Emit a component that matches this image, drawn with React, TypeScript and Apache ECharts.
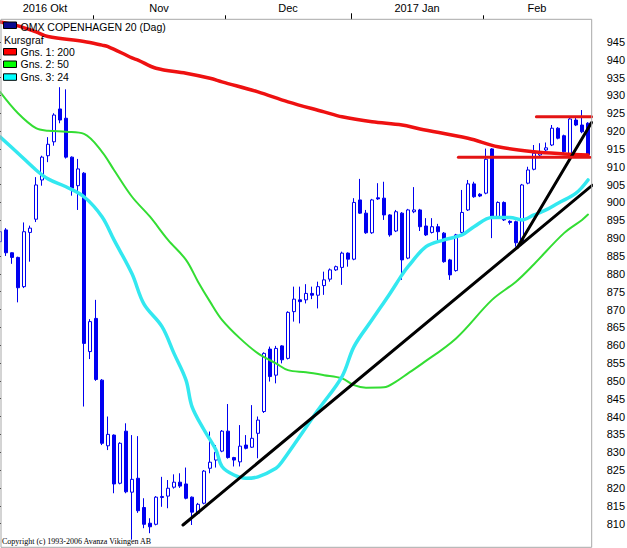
import React, { useEffect, useRef } from "react";
import * as echarts from "echarts";

// ---- calendar (trading days shown) ----
const monthNames = ["2016 Okt", "Nov", "Dec", "2017 Jan", "Feb"];
const monthYears = [2016, 2016, 2016, 2017, 2017];
const monthNums = ["10", "11", "12", "01", "02"];
const oktDays = [10, 11, 12, 13, 14, 17, 18, 19, 20, 21, 24, 25, 26, 27, 28, 31];
const novDays = [1, 2, 3, 4, 7, 8, 9, 10, 11, 14, 15, 16, 17, 18, 21, 22, 23, 24, 25, 28, 29, 30];
const decDays = [1, 2, 5, 6, 7, 8, 9, 12, 13, 14, 15, 16, 19, 20, 21, 22, 23, 27, 28, 29, 30];
const janDays = [2, 3, 4, 5, 6, 9, 10, 11, 12, 13, 16, 17, 18, 19, 20, 23, 24, 25, 26, 27, 30, 31];
const febDays = [1, 2, 3, 6, 7, 8, 9, 10, 13, 14, 15, 16, 17, 20, 21, 22, 23, 24];
const monthDays = [oktDays, novDays, decDays, janDays, febDays];

// ---- OHLC ----
const opens = [
  889.0, 892.3, 885.9, 884.6, 876.4, 891.6, 895.3, 906.3, 913.1, 917.0,
  926.2, 923.6, 912.7, 904.7, 908.2, 858.2, 867.5, 850.2, 831.8, 834.8,
  821.3, 835.9, 818.8, 822.7, 814.5, 810.1, 809.8, 817.3, 817.7, 820.2,
  821.6, 821.1, 817.4, 812.9, 815.7, 825.5, 827.8, 830.3, 835.9, 828.5,
  827.3, 832.0, 831.4, 835.3, 841.4, 858.9, 851.6, 859.8, 856.3, 869.4,
  872.7, 872.7, 874.5, 874.0, 876.7, 878.5, 881.1, 881.8, 885.8, 884.1,
  900.7, 897.0, 891.5, 901.3, 901.2, 896.5, 892.0, 897.0, 884.4, 897.4,
  897.9, 893.4, 891.6, 893.2, 891.4, 883.9, 880.9, 891.6, 897.9, 905.2,
  902.3, 902.6, 915.0, 895.8, 900.0, 894.7, 894.6, 889.0, 905.4, 909.3,
  913.3, 914.7, 916.1, 920.8, 918.7, 913.3, 923.1, 921.7, 922.2,
];
const closes = [
  891.8, 885.9, 884.6, 876.1, 891.8, 892.8, 904.9, 912.7, 916.3, 924.5,
  923.1, 912.7, 904.0, 909.4, 860.5, 866.6, 850.4, 832.5, 835.0, 821.1,
  832.5, 818.9, 822.4, 813.6, 809.8, 809.1, 817.4, 817.6, 819.9, 821.6,
  820.5, 817.1, 813.2, 815.4, 824.7, 827.2, 830.0, 835.9, 828.5, 827.8,
  831.7, 831.1, 833.9, 839.0, 857.7, 851.2, 859.1, 855.9, 869.2, 872.9,
  872.2, 874.5, 874.0, 876.4, 878.3, 881.1, 882.0, 885.8, 884.1, 900.0,
  897.0, 891.5, 900.7, 901.0, 896.5, 890.9, 897.4, 883.9, 897.9, 897.9,
  893.2, 890.9, 893.2, 891.8, 883.4, 879.7, 890.9, 897.2, 905.2, 901.6,
  901.8, 912.1, 895.8, 900.0, 895.1, 894.4, 888.7, 904.9, 909.1, 913.8,
  914.2, 915.3, 920.8, 918.0, 914.2, 923.4, 921.7, 919.8, 913.3,
];
const lows = [
  888.5, 885.0, 882.8, 872.0, 876.0, 883.4, 894.5, 904.7, 911.3, 915.9,
  922.2, 912.3, 901.9, 897.9, 842.8, 856.1, 850.0, 832.0, 830.6, 818.5,
  821.0, 818.5, 805.5, 813.0, 808.7, 807.3, 809.5, 814.7, 814.3, 819.8,
  820.0, 816.8, 809.6, 812.5, 815.4, 824.1, 825.7, 830.0, 828.2, 826.0,
  826.0, 830.8, 831.2, 828.3, 841.0, 849.8, 849.3, 854.9, 856.0, 866.6,
  866.1, 871.7, 872.9, 870.3, 874.1, 877.8, 880.8, 876.9, 882.0, 883.8,
  896.8, 891.2, 891.2, 900.7, 895.1, 890.4, 891.7, 878.3, 884.1, 897.0,
  892.0, 890.6, 891.3, 889.0, 883.1, 878.3, 880.6, 891.3, 897.6, 901.3,
  901.5, 902.3, 890.0, 895.5, 894.8, 893.8, 887.6, 888.0, 905.1, 909.0,
  913.0, 914.4, 915.8, 917.7, 913.9, 913.0, 921.4, 919.4, 913.0,
];
const highs = [
  892.5, 892.8, 886.0, 884.8, 894.4, 893.5, 907.1, 913.1, 918.3, 925.0,
  932.3, 931.7, 912.9, 912.2, 908.5, 867.3, 872.7, 850.5, 840.0, 835.0,
  832.8, 838.1, 834.8, 834.5, 817.1, 811.5, 817.7, 823.1, 822.2, 823.8,
  824.1, 825.7, 817.6, 815.8, 825.0, 835.8, 832.0, 836.2, 843.5, 828.7,
  837.6, 834.8, 843.2, 840.0, 858.0, 859.6, 859.8, 860.0, 869.5, 876.4,
  876.4, 877.1, 876.4, 877.8, 880.6, 881.5, 882.3, 886.2, 886.0, 901.2,
  906.6, 897.9, 901.0, 905.4, 905.8, 896.7, 897.9, 897.3, 898.2, 904.3,
  898.2, 895.6, 895.6, 894.0, 891.7, 884.2, 891.2, 903.5, 906.3, 905.8,
  902.6, 915.1, 915.2, 900.3, 900.3, 895.0, 894.9, 905.2, 910.0, 916.1,
  916.6, 916.8, 921.7, 921.1, 919.0, 924.0, 924.0, 925.9, 922.5,
];

// ---- moving averages: [day index, value] ----
const ma200: [number, number][] = [
  [0, 950.6], [3, 949.5], [6, 947.8], [8, 946.5], [14, 945.1], [17, 944.1], [18, 943.7],
  [22, 940.5], [23, 939.9], [26, 937.6], [31, 936.2], [35, 934.8], [37, 933.8],
  [43, 931.0], [48, 928.2], [54, 925.4], [57, 924.0], [62, 922.6], [67, 921.7],
  [70, 920.6], [78, 918.0], [83, 915.6], [89, 914.2], [94, 913.6], [98, 913.3],
];
const ma50: [number, number][] = [
  [0, 931.0], [3, 925.0], [6, 920.8], [8, 920.1], [11, 919.8], [14, 919.2], [17, 914.2],
  [19, 909.1], [22, 901.6], [25, 896.0], [28, 889.5], [31, 883.9], [33, 877.8],
  [35, 872.2], [37, 867.1], [40, 861.9], [43, 857.7], [46, 854.9], [48, 853.0],
  [51, 852.4], [54, 851.6], [57, 850.7], [59, 848.8], [61, 848.1], [64, 848.2],
  [66, 849.8], [68, 852.1], [70, 854.4], [76, 861.9], [82, 872.7], [86, 877.8],
  [89, 882.7], [94, 891.4], [97, 895.1], [98, 896.6],
];
const ma24: [number, number][] = [
  [0, 918.4], [3, 913.8], [6, 909.1], [8, 906.6], [11, 904.4], [14, 901.6], [17, 896.0],
  [19, 889.5], [22, 880.0], [24, 871.5], [27, 865.2], [29, 857.7], [31, 850.2],
  [32, 842.8], [34, 836.3], [36, 830.6], [37, 826.0], [39, 823.6], [41, 822.7],
  [43, 823.1], [46, 825.5], [47, 827.3], [53, 841.8], [57, 851.2], [59, 859.6],
  [62, 867.1], [65, 874.5], [67, 879.7], [68, 882.0], [71, 887.6], [74, 889.5],
  [77, 890.9], [79, 893.2], [82, 895.8], [85, 895.8], [87, 895.1], [89, 896.5],
  [91, 897.9], [93, 899.8], [96, 902.6], [98, 906.3],
];

// ---- drawn trend lines / levels: [day index, value] ----
const trendLong: [number, number][] = [[30.5, 809.6], [98.7, 904.8]];
const trendSteep: [number, number][] = [[86.2, 887.3], [98.6, 922.4]];
const levelHigh: [number, number][] = [[89.4, 924.0], [98.6, 924.0]];
const levelLow: [number, number][] = [[76.4, 912.7], [98.3, 912.7]];

// ---- legend ----
const legendTitle = "OMX COPENHAGEN 20 (Dag)";
const legendSub = "Kursgraf";
const maLabels = ["Gns. 1: 200", "Gns. 2: 50", "Gns. 3: 24"];
const copyright = "Copyright (c) 1993-2006 Avanza Vikingen AB";

export default function App() {
  const ref = useRef<HTMLDivElement>(null);

  useEffect(() => {
    if (!ref.current) return;
    const chart = echarts.init(ref.current, undefined, { renderer: "svg" });

    const categories: string[] = [];
    const starts: number[] = [];
    const ends: number[] = [];
    monthDays.forEach((days, m) => {
      starts.push(categories.length);
      days.forEach((d) =>
        categories.push(`${monthYears[m]}-${monthNums[m]}-${String(d).padStart(2, "0")}`)
      );
      ends.push(categories.length - 1);
    });
    const n = categories.length;
    const monthTicks = starts.slice(1).map((s) => s - 0.5);
    const yearTicks = starts.filter((s, m) => m > 0 && monthYears[m] !== monthYears[m - 1]).map((s) => s - 0.5);
    const labelVals = starts.map((s, m) => (s + ends[m]) / 2);
    const labelFor = (v: number) => {
      const k = labelVals.findIndex((x) => Math.abs(x - v) < 0.01);
      return k >= 0 ? monthNames[k] : "";
    };

    const ohlc = opens.map((o, i) => [o, closes[i], lows[i], highs[i]]);

    const FONT = "'Liberation Sans', Arial, sans-serif";
    const maColors = ["#ee1111", "#33dd33", "#33e8f0"];
    const swatchColors = ["#ff0000", "#00ff00", "#00ffff"];

    const lineSeries = (data: [number, number][], color: string, width: number, z: number, smooth: boolean) => ({
      type: "line",
      xAxisIndex: 1,
      yAxisIndex: 0,
      data,
      smooth: smooth ? 0.35 : false,
      showSymbol: false,
      symbol: "none",
      lineStyle: { color, width, cap: "round" },
      silent: true,
      z,
    });

    const legendGraphics: any[] = [
      { type: "rect", shape: { x: 3.5, y: 22, width: 13, height: 6.5 }, style: { fill: "#0a0a90", stroke: "#000", lineWidth: 1 }, z: 100 },
      { type: "text", x: 20.5, y: 26.7, style: { text: legendTitle, font: `10.5px ${FONT}`, fill: "#000", verticalAlign: "middle" }, z: 100 },
      { type: "text", x: 4, y: 39.5, style: { text: legendSub, font: `10.5px ${FONT}`, fill: "#000", verticalAlign: "middle" }, z: 100 },
    ];
    const rowY = [51.7, 64.2, 77];
    maLabels.forEach((t, k) => {
      legendGraphics.push({
        type: "rect",
        shape: { x: 3.5, y: rowY[k] - 3.2, width: 13, height: 6.5 },
        style: { fill: swatchColors[k], stroke: "#000", lineWidth: 1 },
        z: 100,
      });
      legendGraphics.push({
        type: "text",
        x: 20.5,
        y: rowY[k],
        style: { text: t, font: `10.5px ${FONT}`, fill: "#000", verticalAlign: "middle" },
        z: 100,
      });
    });

    chart.setOption({
      animation: false,
      backgroundColor: "#ffffff",
      textStyle: { fontFamily: FONT },
      grid: [
        { left: -3, right: 36, top: 19.3, bottom: 0.7, containLabel: false, outerBoundsMode: "none" },
        { left: -3, right: 35.3, top: 41.9, bottom: 24.4, containLabel: false, outerBoundsMode: "none" },
      ],
      xAxis: [
        {
          type: "category",
          gridIndex: 0,
          data: categories,
          boundaryGap: true,
          axisLine: { show: false },
          axisTick: { show: false },
          axisLabel: { show: false },
          splitLine: { show: false },
        },
        {
          type: "value",
          gridIndex: 0,
          position: "top",
          min: -0.5,
          max: n - 0.5,
          axisLine: { show: false },
          splitLine: { show: false },
          axisTick: { show: true, customValues: monthTicks, length: 4, lineStyle: { color: "#000", width: 1 } },
          axisLabel: {
            show: true,
            customValues: labelVals,
            formatter: (v: number) => labelFor(v),
            margin: 6,
            color: "#000",
            fontSize: 11,
            fontFamily: FONT,
          },
        },
        {
          type: "value",
          gridIndex: 0,
          position: "top",
          min: -0.5,
          max: n - 0.5,
          axisLine: { show: false },
          splitLine: { show: false },
          axisTick: { show: true, customValues: yearTicks, length: 6, lineStyle: { color: "#000", width: 1 } },
          axisLabel: { show: false },
        },
        { type: "value", gridIndex: 1, show: false, min: 0, max: 1 },
      ],
      yAxis: [
        {
          type: "value",
          gridIndex: 0,
          min: 803.35,
          max: 951.33,
          show: false,
          splitLine: { show: false },
        },
        {
          type: "value",
          gridIndex: 1,
          position: "right",
          min: 810,
          max: 945,
          interval: 5,
          axisLine: { show: false },
          splitLine: { show: false },
          axisTick: { show: true, inside: false, length: 4, lineStyle: { color: "#000", width: 1 } },
          axisLabel: { margin: 15, color: "#000", fontSize: 11, fontFamily: FONT },
        },
      ],
      series: [
        {
          type: "candlestick",
          xAxisIndex: 0,
          yAxisIndex: 0,
          data: ohlc,
          barWidth: 4,
          silent: true,
          itemStyle: {
            color: "#ffffff",
            color0: "#0000f0",
            borderColor: "#0000f0",
            borderColor0: "#0000f0",
            borderWidth: 1,
          },
          z: 2,
        },
        lineSeries(ma200, maColors[0], 3.5, 3, true),
        lineSeries(ma50, maColors[1], 2, 3, true),
        lineSeries(ma24, maColors[2], 3.5, 3, true),
        lineSeries(trendLong, "#000000", 3, 5, false),
        lineSeries(trendSteep, "#000000", 3, 5, false),
        lineSeries(levelHigh, "#e41414", 3, 5, false),
        lineSeries(levelLow, "#e41414", 3, 5, false),
      ],
      graphic: [
        {
          type: "rect",
          shape: { x: 1, y: 19.3, width: 590.7, height: 528 },
          style: { fill: "none", stroke: "#a8a8a8", lineWidth: 1 },
          silent: true,
          z: 50,
        },
        ...legendGraphics,
        {
          type: "text",
          x: 2,
          y: 541.7,
          style: { text: copyright, font: "8px 'Liberation Serif', 'Times New Roman', serif", fill: "#000", verticalAlign: "middle" },
          z: 100,
        },
      ],
    });

    return () => chart.dispose();
  }, []);

  return (
    <div
      ref={ref}
      style={{ position: "fixed", left: 0, top: 0, width: 627, height: 548, background: "#fff" }}
    />
  );
}
